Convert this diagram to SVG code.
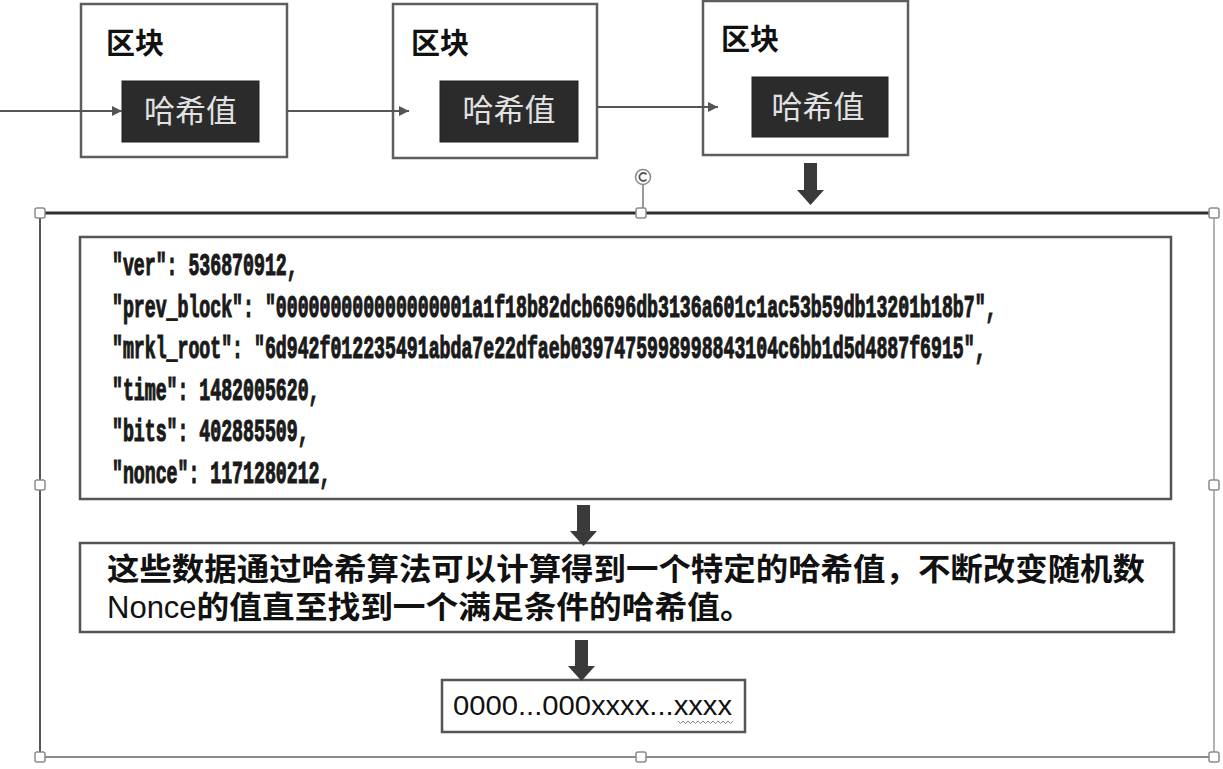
<svg xmlns="http://www.w3.org/2000/svg" width="1223" height="769" viewBox="0 0 1223 769">
  <style>
    .block { fill: #ffffff; stroke: #5e5e5e; stroke-width: 2.5; }
    .hash { fill: #2b2b2b; stroke: #222; stroke-width: 1; }
    .title { font-family: "Liberation Sans", "Noto Sans CJK SC", sans-serif; font-size: 29px; font-weight: bold; fill: #111; }
    .hashtxt { font-family: "Liberation Sans", "Noto Sans CJK SC", sans-serif; font-size: 31px; fill: #e2e2e2; }
    .box { fill: #ffffff; stroke: #555; stroke-width: 2.5; }
    .code { font-family: "Liberation Mono", "DejaVu Sans Mono", monospace; font-size: 18.2px; font-weight: bold; fill: #1a1a1a; stroke: #1a1a1a; stroke-width: 0.7; }
    .desc { font-family: "Liberation Sans", "Noto Sans CJK SC", sans-serif; font-size: 31px; font-weight: bold; fill: #111; }
    .res { font-family: "Liberation Sans", "Noto Sans CJK SC", sans-serif; font-size: 27px; fill: #111; }
    .conn { stroke: #555; stroke-width: 2; fill: none; }
    .thick { fill: #3a3a3a; }
    .handle { fill: #ffffff; stroke: #8a8a8a; stroke-width: 1.5; }
  </style>
  <defs>
    <marker id="tri" viewBox="0 0 10 10" refX="10" refY="5" markerWidth="10" markerHeight="10" markerUnits="userSpaceOnUse" orient="auto">
      <path d="M0,0 L10,5 L0,10 Z" fill="#555"/>
    </marker>
  </defs>

  <rect width="1223" height="769" fill="#ffffff"/>

  <!-- selection frame -->
  <g id="frame">
    <line x1="40" y1="213" x2="1214" y2="213" stroke="#2e2e2e" stroke-width="3"/>
    <line x1="40" y1="213" x2="40" y2="757" stroke="#555" stroke-width="2"/>
    <line x1="40" y1="757" x2="1214" y2="757" stroke="#8a8a8a" stroke-width="2"/>
    <line x1="1214" y1="213" x2="1214" y2="757" stroke="#9a9a9a" stroke-width="1.5"/>
    <line x1="643" y1="184" x2="643" y2="209" stroke="#777" stroke-width="1.5"/>
    <circle cx="643" cy="177" r="7.5" fill="#fff" stroke="#888" stroke-width="1.5"/>
    <path d="M646.5,174.5 A4,4 0 1 0 646.5,179.5" fill="none" stroke="#555" stroke-width="1.8"/>
    <rect class="handle" x="35" y="208" width="10" height="10" rx="2"/>
    <rect class="handle" x="636" y="208" width="10" height="10" rx="2"/>
    <rect class="handle" x="1209" y="208" width="10" height="10" rx="2"/>
    <rect class="handle" x="35" y="480" width="10" height="10" rx="2"/>
    <rect class="handle" x="1209" y="480" width="10" height="10" rx="2"/>
    <rect class="handle" x="35" y="752" width="10" height="10" rx="2"/>
    <rect class="handle" x="636" y="752" width="10" height="10" rx="2"/>
    <rect class="handle" x="1209" y="752" width="10" height="10" rx="2"/>
  </g>

  <!-- blocks -->
  <g id="block1">
    <rect class="block" x="81" y="4" width="206" height="153"/>
    <text class="title" x="106" y="54">区块</text>
    <rect class="hash" x="122" y="81" width="137" height="61"/>
    <text class="hashtxt" x="190.5" y="122" text-anchor="middle">哈希值</text>
  </g>
  <g id="block2">
    <rect class="block" x="393" y="4" width="204" height="154"/>
    <text class="title" x="411" y="54">区块</text>
    <rect class="hash" x="440" y="81" width="138" height="61"/>
    <text class="hashtxt" x="509" y="121" text-anchor="middle">哈希值</text>
  </g>
  <g id="block3">
    <rect class="block" x="703" y="1" width="205" height="154"/>
    <text class="title" x="721" y="50">区块</text>
    <rect class="hash" x="752" y="77" width="136" height="60"/>
    <text class="hashtxt" x="818" y="118" text-anchor="middle">哈希值</text>
  </g>

  <!-- data box -->
  <g id="header-data">
    <rect class="box" x="80" y="237" width="1091" height="262"/>
    <text class="code" transform="matrix(1 0 0 1.68 112 275)" x="0" y="0">"ver": 536870912,</text>
    <text class="code" transform="matrix(1 0 0 1.68 112 317)" x="0" y="0">"prev_block": "000000000000000001a1f18b82dcb6696db3136a601c1ac53b59db13201b18b7",</text>
    <text class="code" transform="matrix(1 0 0 1.68 112 358)" x="0" y="0">"mrkl_root": "6d942f012235491abda7e22dfaeb0397475998998843104c6bb1d5d4887f6915",</text>
    <text class="code" transform="matrix(1 0 0 1.68 112 400)" x="0" y="0">"time": 1482005620,</text>
    <text class="code" transform="matrix(1 0 0 1.68 112 441)" x="0" y="0">"bits": 402885509,</text>
    <text class="code" transform="matrix(1 0 0 1.68 112 483)" x="0" y="0">"nonce": 1171280212,</text>
  </g>

  <!-- description box -->
  <g id="description">
    <rect class="box" x="80" y="543" width="1094" height="89"/>
    <text class="desc" x="107" y="580" textLength="1038" lengthAdjust="spacingAndGlyphs">这些数据通过哈希算法可以计算得到一个特定的哈希值，不断改变随机数</text>
    <text class="desc" x="107" y="618"><tspan font-weight="normal">Nonce</tspan><tspan textLength="556" lengthAdjust="spacingAndGlyphs">的值直至找到一个满足条件的哈希值。</tspan></text>
  </g>

  <!-- result box -->
  <g id="result">
    <rect class="box" x="442" y="680" width="303" height="52"/>
    <text class="res" x="453" y="715" textLength="279" lengthAdjust="spacingAndGlyphs">0000...000xxxx...xxxx</text>
    <path d="M678,721 l2.5,2.5 l2.5,-2.5 l2.5,2.5 l2.5,-2.5 l2.5,2.5 l2.5,-2.5 l2.5,2.5 l2.5,-2.5 l2.5,2.5 l2.5,-2.5 l2.5,2.5 l2.5,-2.5 l2.5,2.5 l2.5,-2.5 l2.5,2.5 l2.5,-2.5 l2.5,2.5 l2.5,-2.5 l2.5,2.5 l2.5,-2.5 l2.5,2.5 l2.5,-2.5" fill="none" stroke="#888" stroke-width="1"/>
  </g>

  <!-- connectors -->
  <g id="connectors">
    <line class="conn" x1="0" y1="111" x2="122" y2="111" marker-end="url(#tri)"/>
    <line class="conn" x1="287" y1="111" x2="409" y2="111" marker-end="url(#tri)"/>
    <line class="conn" x1="597" y1="107" x2="718" y2="107" marker-end="url(#tri)"/>
    <path class="thick" d="M804,163 H817 V190 H824 L810.5,205 L797,190 H804 Z"/>
    <path class="thick" d="M577,505 H590 V531 H597 L583.5,546 L570,531 H577 Z"/>
    <path class="thick" d="M575,640 H588 V666 H595 L581.5,681 L568,666 H575 Z"/>
  </g>
</svg>
